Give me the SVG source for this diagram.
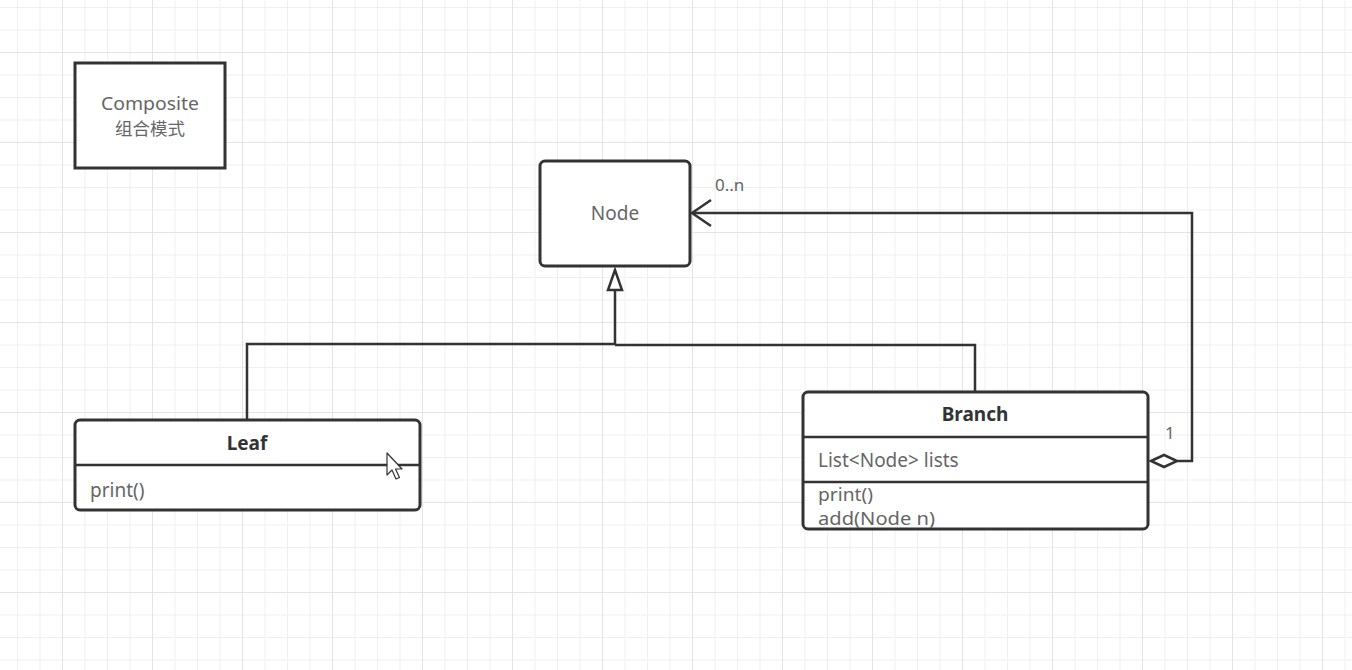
<svg xmlns="http://www.w3.org/2000/svg" width="1352" height="670" viewBox="0 0 1352 670">
<defs>
<pattern id="grid" patternUnits="userSpaceOnUse" x="62" y="52" width="90" height="90">
<rect x="0" y="0" width="90" height="90" fill="#ffffff"/>
<rect x="22.5" y="0" width="1" height="90" fill="#f0f0f0"/>
<rect x="45" y="0" width="1" height="90" fill="#f0f0f0"/>
<rect x="67.5" y="0" width="1" height="90" fill="#f0f0f0"/>
<rect x="0" y="22.5" width="90" height="1" fill="#f0f0f0"/>
<rect x="0" y="45" width="90" height="1" fill="#f0f0f0"/>
<rect x="0" y="67.5" width="90" height="1" fill="#f0f0f0"/>
<rect x="0" y="0" width="1" height="90" fill="#e4e4e4"/>
<rect x="0" y="0" width="90" height="1" fill="#e4e4e4"/>
</pattern>
</defs>
<style>
.box{fill:#ffffff;stroke:#333333;stroke-width:3}
.div{stroke:#333333;stroke-width:2.5;fill:none}
.edge{stroke:#333333;stroke-width:2.5;fill:none}
.t{font-family:"Noto Sans","Liberation Sans","Noto Sans CJK SC",sans-serif;font-size:19px;fill:#666666}
.s{font-family:"Noto Sans","Liberation Sans","Noto Sans CJK SC",sans-serif;font-size:17.5px;fill:#666666}
.b{font-family:"Noto Sans","Liberation Sans",sans-serif;font-size:19px;font-weight:bold;fill:#333333}
.lbl{font-family:"Noto Sans","Liberation Sans",sans-serif;font-size:17px;fill:#666666}
</style>
<rect x="0" y="0" width="1352" height="670" fill="url(#grid)"/>

<g id="composite">
<rect class="box" x="75" y="63" width="150" height="105"/>
<text class="s" x="150" y="110" text-anchor="middle" textLength="98" lengthAdjust="spacingAndGlyphs">Composite</text>
<text class="s" x="150" y="135" text-anchor="middle">组合模式</text>
</g>

<g id="connectors">
<path class="edge" d="M247 420 V344 H615 V290"/>
<path class="edge" d="M975 392 V345 H615"/>
<polygon points="615,270 608,290 622,290" fill="#ffffff" stroke="#333333" stroke-width="2.5" stroke-linejoin="miter"/>
<path class="edge" d="M1177 461 H1192 V213 H692"/>
<path class="edge" d="M711 200 L692 213 L711 226"/>
<polygon points="1151,461 1164,455 1177,461 1164,467" fill="#ffffff" stroke="#333333" stroke-width="2.5"/>
<text class="lbl" x="715" y="191">0..n</text>
<text class="lbl" x="1165" y="439">1</text>
</g>

<g id="node">
<rect class="box" x="540" y="161" width="150" height="105" rx="5" ry="5"/>
<text class="t" x="615" y="220" text-anchor="middle">Node</text>
</g>

<g id="leaf">
<rect class="box" x="75" y="420" width="345" height="90" rx="5" ry="5"/>
<line class="div" x1="75" y1="465" x2="420" y2="465"/>
<text class="b" x="247" y="450" text-anchor="middle">Leaf</text>
<text class="t" x="90" y="497">print()</text>
</g>

<g id="branch">
<rect class="box" x="803" y="392" width="345" height="137" rx="5" ry="5"/>
<line class="div" x1="803" y1="437" x2="1148" y2="437"/>
<line class="div" x1="803" y1="482" x2="1148" y2="482"/>
<text class="b" x="975" y="421" text-anchor="middle">Branch</text>
<text class="t" x="818" y="467">List&lt;Node&gt; lists</text>
<text class="s" x="818" y="501" textLength="55" lengthAdjust="spacingAndGlyphs">print()</text>
<text class="s" x="818" y="525" textLength="117" lengthAdjust="spacingAndGlyphs">add(Node n)</text>
</g>

<g id="cursor">
<polygon points="387,453 387,475 392,470 396,479 399.5,477.5 395.5,469 402,469" fill="#ffffff" stroke="#333333" stroke-width="1.2" stroke-linejoin="round"/>
</g>
</svg>
